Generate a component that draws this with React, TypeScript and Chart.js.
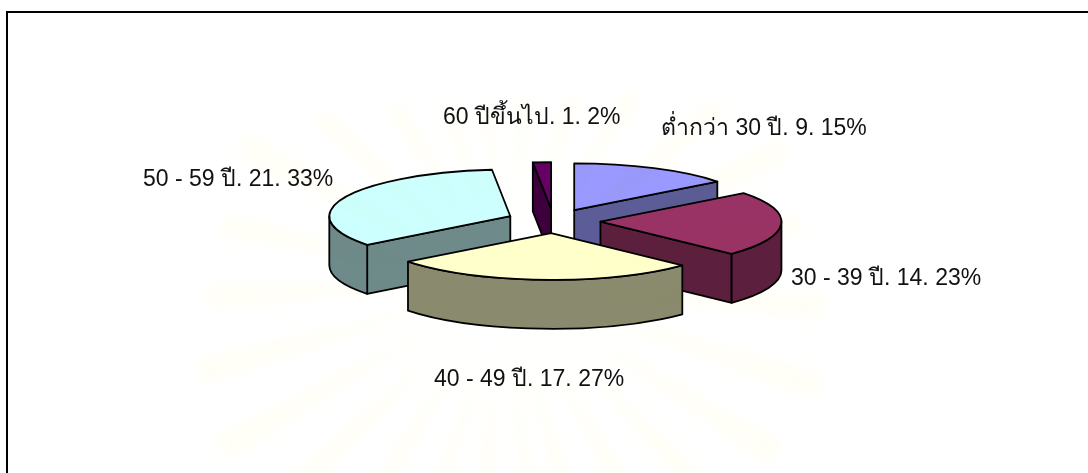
import React, { useEffect, useRef } from "react";
import { Chart, registerables } from "chart.js";

Chart.register(...registerables);

const categories = ["ต่ำกว่า 30 ปี", "30 - 39 ปี", "40 - 49 ปี", "50 - 59 ปี", "60 ปีขึ้นไป"];
const counts = [9, 14, 17, 21, 1];
const percents = [15, 23, 27, 33, 2];
const topColors = ["#9999FF", "#993366", "#FFFFCC", "#CCFFFF", "#660066"];
const sideColors = ["#5C5C99", "#5C1F3D", "#8A8A6E", "#6E8A8A", "#3D003D"];

const labelX = [661, 791, 434, 143, 443];
const labelY = [135, 285, 386, 186, 124];

const SQUASH = 0.258;
const EXPLODE = 47;
const DEPTH = 49;
const RADIUS = 181;

const rayAngles = [-168, -152, -138, -122, -108, -96, -84, -70, -56, -40, -26, -12, 4, 18, 32, 46, 60, 74, 84, 96, 108, 122, 136, 150, 164, 178];
const rayLengths = [290, 300, 250, 210, 190, 180, 190, 200, 230, 280, 310, 300, 320, 330, 320, 300, 260, 230, 230, 240, 270, 320, 340, 330, 320, 300];

const pie3d = {
  id: "pie3d",
  beforeDraw(chart: any) {
    const { ctx } = chart;
    ctx.save();
    ctx.fillStyle = "#FFFFFF";
    ctx.fillRect(0, 0, chart.width, chart.height);
    ctx.fillStyle = "#000000";
    ctx.fillRect(6, 11, 2, chart.height - 11);
    ctx.fillRect(6, 11, chart.width - 6, 2);
    ctx.restore();
  },
  beforeDatasetsDraw(chart: any) {
    const { ctx } = chart;
    const arcs: any[] = chart.getDatasetMeta(0).data;
    const slices = arcs.map((arc, i) => {
      const mid = (arc.startAngle + arc.endAngle) / 2;
      return {
        arc,
        i,
        mid,
        dx: Math.cos(mid) * EXPLODE,
        ax: arc.x + Math.cos(mid) * EXPLODE,
        ay: arc.y + Math.sin(mid) * EXPLODE * SQUASH,
      };
    });
    slices.sort((a, b) => Math.sin(a.mid) - Math.sin(b.mid));
    ctx.save();
    ctx.lineJoin = "round";
    ctx.lineWidth = 1.8;
    ctx.strokeStyle = "#000000";
    for (const s of slices) {
      const { arc, ax, ay } = s;
      const R = arc.outerRadius;
      const rY = R * SQUASH;
      const a0 = arc.startAngle;
      const a1 = arc.endAngle;
      const px = (t: number) => ax + R * Math.cos(t);
      const py = (t: number) => ay + rY * Math.sin(t);
      ctx.fillStyle = sideColors[s.i];
      const quad = (t: number) => {
        ctx.beginPath();
        ctx.moveTo(ax, ay);
        ctx.lineTo(px(t), py(t));
        ctx.lineTo(px(t), py(t) + DEPTH);
        ctx.lineTo(ax, ay + DEPTH);
        ctx.closePath();
        ctx.fill();
        ctx.stroke();
      };
      if (Math.cos(a0) < -1e-6) quad(a0);
      if (Math.cos(a1) > 1e-6) quad(a1);
      const b0 = Math.max(a0, 0);
      const b1 = Math.min(a1, Math.PI);
      if (b1 > b0) {
        ctx.beginPath();
        ctx.ellipse(ax, ay, R, rY, 0, b0, b1);
        ctx.lineTo(px(b1), py(b1) + DEPTH);
        ctx.ellipse(ax, ay + DEPTH, R, rY, 0, b1, b0, true);
        ctx.closePath();
        ctx.fill();
        ctx.stroke();
      }
      ctx.save();
      ctx.translate(s.dx, ay - arc.y);
      ctx.translate(0, arc.y);
      ctx.scale(1, SQUASH);
      ctx.translate(0, -arc.y);
      arc.draw(ctx);
      ctx.restore();
      ctx.beginPath();
      ctx.moveTo(ax, ay);
      ctx.ellipse(ax, ay, R, rY, 0, a0, a1);
      ctx.closePath();
      ctx.stroke();
    }
    ctx.restore();
    return false;
  },
  afterDraw(chart: any) {
    const { ctx } = chart;
    ctx.save();
    ctx.globalCompositeOperation = "multiply";
    ctx.filter = "blur(6px)";
    ctx.fillStyle = "#FFFEF6";
    const cx = 506;
    const cy = 285;
    rayAngles.forEach((deg, i) => {
      const t = (deg * Math.PI) / 180;
      const w = 0.04;
      ctx.beginPath();
      ctx.moveTo(cx + 50 * Math.cos(t), cy + 50 * Math.sin(t));
      ctx.lineTo(cx + rayLengths[i] * Math.cos(t - w), cy + rayLengths[i] * Math.sin(t - w));
      ctx.lineTo(cx + rayLengths[i] * Math.cos(t + w), cy + rayLengths[i] * Math.sin(t + w));
      ctx.closePath();
      ctx.fill();
    });
    ctx.restore();

    ctx.save();
    ctx.font = '23px "Liberation Sans", "Noto Sans", sans-serif';
    ctx.fillStyle = "#111111";
    ctx.textBaseline = "alphabetic";
    ctx.textAlign = "left";
    categories.forEach((c, i) => {
      ctx.fillText(`${c}. ${counts[i]}. ${percents[i]}%`, labelX[i], labelY[i]);
    });
    ctx.restore();
  },
};

export default function App() {
  const ref = useRef<HTMLCanvasElement>(null);
  useEffect(() => {
    if (!ref.current) return;
    const chart = new Chart(ref.current, {
      type: "pie",
      data: {
        labels: categories,
        datasets: [
          {
            data: counts,
            backgroundColor: topColors,
            borderWidth: 0,
          },
        ],
      },
      options: {
        animation: false,
        responsive: false,
        radius: RADIUS,
        layout: { padding: { left: 19, bottom: 31 } },
        plugins: { legend: { display: false }, tooltip: { enabled: false } },
      } as any,
      plugins: [pie3d],
    });
    return () => chart.destroy();
  }, []);
  return (
    <div style={{ position: "absolute", left: 0, top: 0, width: 1088, height: 473, background: "#fff" }}>
      <canvas ref={ref} width={1088} height={473} style={{ display: "block" }} />
    </div>
  );
}
